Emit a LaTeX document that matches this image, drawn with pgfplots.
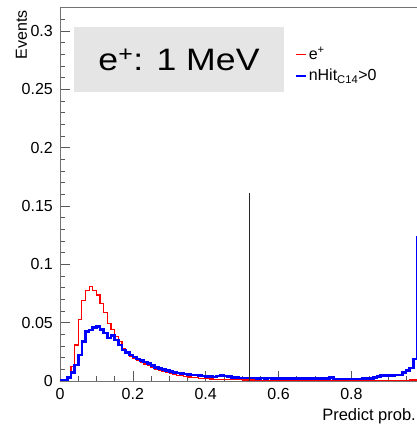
\documentclass[border=0pt]{standalone}
\usepackage{pgfplots}
\pgfplotsset{compat=1.18}
\usepackage{fontspec}
\setmainfont{Liberation Sans}
\definecolor{hred}{RGB}{255,0,0}
\definecolor{hblue}{RGB}{0,0,255}
\pgfplotstableread{
x r b
0.00 0 0.0005
0.01 0 0.0008
0.02 0.0035 0.003
0.03 0.0123 0.0075
0.04 0.0309 0.0137
0.05 0.0529 0.0223
0.06 0.0689 0.0337
0.07 0.0775 0.0423
0.08 0.0809 0.0437
0.09 0.0775 0.0460
0.10 0.0738 0.0466
0.11 0.0666 0.0443
0.12 0.0586 0.0410
0.13 0.0495 0.0370
0.14 0.0443 0.0390
0.15 0.0380 0.0350
0.16 0.0337 0.0310
0.17 0.0280 0.0266
0.18 0.0250 0.0243
0.19 0.0214 0.0223
0.20 0.0190 0.0205
0.21 0.0175 0.0190
0.22 0.0160 0.0175
0.23 0.0145 0.0162
0.24 0.0130 0.0150
0.25 0.0115 0.0135
0.26 0.0100 0.0118
0.27 0.0090 0.0105
0.28 0.0080 0.0098
0.29 0.0070 0.0090
0.30 0.0062 0.0082
0.31 0.0055 0.0075
0.32 0.0050 0.0070
0.33 0.0045 0.0066
0.34 0.0040 0.0060
0.35 0.0035 0.0057
0.36 0.0030 0.0052
0.37 0.0027 0.0050
0.38 0.0024 0.0046
0.39 0.0021 0.0042
0.40 0.0019 0.0040
0.41 0.0017 0.0037
0.42 0.0016 0.0035
0.43 0.0015 0.0042
0.44 0.0014 0.0048
0.45 0.0013 0.0043
0.46 0.0012 0.0037
0.47 0.0011 0.0031
0.48 0.0010 0.0030
0.49 0.0010 0.0027
0.50 0.0009 0.0026
0.51 0.0009 0.0026
0.52 0.0008 0.0025
0.53 0.0008 0.0026
0.54 0.0008 0.0024
0.55 0.0007 0.0025
0.56 0.0007 0.0024
0.57 0.0007 0.0025
0.58 0.0007 0.0023
0.59 0.0006 0.0022
0.60 0.0006 0.0021
0.61 0.0006 0.0020
0.62 0.0006 0.0021
0.63 0.0006 0.0022
0.64 0.0006 0.0019
0.65 0.0006 0.0020
0.66 0.0006 0.0021
0.67 0.0006 0.0020
0.68 0.0006 0.0022
0.69 0.0006 0.0021
0.70 0.0006 0.0022
0.71 0.0006 0.0021
0.72 0.0006 0.0022
0.73 0.0006 0.0021
0.74 0.0006 0.0031
0.75 0.0006 0.0018
0.76 0.0006 0.0017
0.77 0.0006 0.0018
0.78 0.0006 0.0017
0.79 0.0006 0.0018
0.80 0.0006 0.0017
0.81 0.0006 0.0018
0.82 0.0006 0.0017
0.83 0.0006 0.0020
0.84 0.0006 0.0021
0.85 0.0006 0.0020
0.86 0.0006 0.0030
0.87 0.0006 0.0040
0.88 0.0006 0.0045
0.89 0.0006 0.0046
0.90 0.0006 0.0046
0.91 0.0006 0.0048
0.92 0.0006 0.0050
0.93 0.0006 0.0052
0.94 0.0007 0.0074
0.95 0.0007 0.0088
0.96 0.0008 0.0110
0.97 0.0009 0.0190
0.98 0.0010 0.1230
0.99 0.0020 0.2500
1.00 0.0020 0.2500
}\histdata
\begin{document}
\begin{tikzpicture}[x=1pt,y=1pt]
\begin{axis}[
  at={(60pt,48pt)}, anchor=south west,
  scale only axis, width=364.3pt, height=374pt,
  xmin=0, xmax=1, ymin=0, ymax=0.3207,
  enlargelimits=false,
  axis line style={black!55, line width=0.8pt},
  tick style={black!65, line width=0.7pt},
  tick align=inside, tick pos=left,
  major tick length=10pt, minor tick length=5pt,
  xtick={0,0.2,0.4,0.6,0.8},
  xticklabels={0,0.2,0.4,0.6,0.8},
  minor xtick={0.05,0.1,...,0.95},
  ytick={0,0.05,0.1,0.15,0.2,0.25,0.3},
  yticklabels={0,0.05,0.1,0.15,0.2,0.25,0.3},
  minor ytick={0.01,0.02,...,0.32},
  /pgf/number format/assume math mode=true,
  ticklabel style={font=\fontsize{16}{16}\selectfont, inner sep=0pt},
  yticklabel style={anchor=east, xshift=-7pt},
  xticklabel style={anchor=north, yshift=-7pt},
  legend style={draw=none, fill=none, at={(0.645,0.896)}, anchor=north west,
    font=\fontsize{16}{18}\selectfont, inner sep=0pt, row sep=6pt,
    nodes={inner xsep=1pt, inner ysep=1pt}},
  legend cell align=left,
  legend image code/.code={\draw[#1] (0pt,0pt) -- (10pt,0pt);},
]
\addplot[const plot mark left, draw=hred, color=hred, line width=1.2pt] table[x=x,y=r] {\histdata};
\addlegendentry{e\textsuperscript{+}}
\addplot[const plot mark left, draw=hblue, color=hblue, line width=2.6pt] table[x=x,y=b] {\histdata};
\addlegendentry{nHit\textsubscript{C14}>0}
\addplot[black!85, line width=1pt, forget plot] coordinates {(0.519,0) (0.519,0.161)};
\end{axis}
\node[fill=black!10, minimum width=210pt, minimum height=65pt, inner sep=0pt] at (179,369.5)
  {\scalebox{1.15}[1]{\fontsize{31}{31}\selectfont e\textsuperscript{+}: 1 MeV}};
\node[rotate=90, anchor=east, font=\fontsize{16}{16}\selectfont, inner sep=0pt] at (21.5,419) {Events};
\node[anchor=east, font=\fontsize{16.5}{16.5}\selectfont, inner sep=0pt] at (416,12.5) {Predict prob.};
\pgfresetboundingbox
\useasboundingbox (0,0) rectangle (416,429);
\end{tikzpicture}
\end{document}
